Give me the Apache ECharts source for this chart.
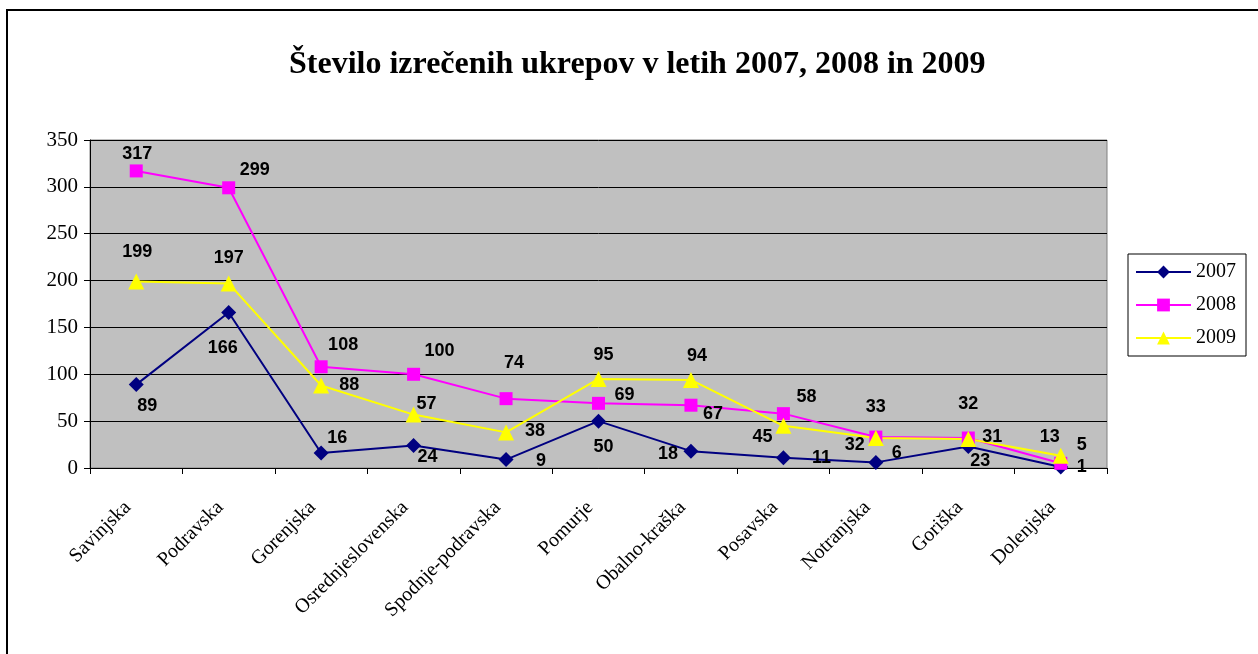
<!DOCTYPE html>
<html>
<head>
<meta charset="utf-8">
<title>Število izrečenih ukrepov</title>
<script src="https://cdn.jsdelivr.net/npm/echarts/dist/echarts.min.js"></script>
<style>
html, body {margin:0; padding:0; background:#fff;}
#chart {width:1258px; height:654px;}
</style>
</head>
<body>
<div id="chart"></div>
<script>
var regije = ['Savinjska', 'Podravska', 'Gorenjska', 'Osrednjeslovenska', 'Spodnje-podravska',
    'Pomurje', 'Obalno-kraška', 'Posavska', 'Notranjska', 'Goriška', 'Dolenjska'];
var leto2007 = [89, 166, 16, 24, 9, 50, 18, 11, 6, 23, 1];
var leto2008 = [317, 299, 108, 100, 74, 69, 67, 58, 33, 32, 5];
var leto2009 = [199, 197, 88, 57, 38, 95, 94, 45, 32, 31, 13];
var yTicks = [0, 50, 100, 150, 200, 250, 300, 350];

// premiki oznak (kot v excelu, ročno razporejene)
var off2007 = [[11,21],[-6,36],[16,-15],[14,12],[35,1],[5,26],[-23,3],[38,0],[21,-9],[12,15],[21,0]];
var off2008 = [[1,-17],[26,-18],[22,-22],[26,-23],[8,-36],[26,-8],[22,9],[23,-17],[0,-30],[0,-34],[21,-18]];
var off2009 = [[1,-29],[0,-25],[28,-1],[13,-11],[29,-1],[5,-24],[6,-24],[-21,11],[-21,7],[24,-2],[-11,-19]];

function points(values, offsets){
    var out = [];
    for (var i = 0; i < values.length; i++) {
        out.push({value: values[i], label: {offset: offsets[i]}});
    }
    return out;
}

function makeSeries(name, values, offsets, color, symbol, size){
    return {
        name: name,
        type: 'line',
        data: points(values, offsets),
        symbol: symbol,
        symbolSize: size,
        color: color,
        lineStyle: {color: color, width: 2},
        itemStyle: {color: color},
        label: {
            show: true,
            position: 'inside',
            align: 'center',
            verticalAlign: 'middle',
            color: '#000',
            fontFamily: 'Liberation Sans',
            fontWeight: 'bold',
            fontSize: 18
        },
        emphasis: {disabled: true},
        animation: false
    };
}

var chart = echarts.init(document.getElementById('chart'), null, {renderer: 'canvas'});
chart.setOption({
    backgroundColor: '#fff',
    title: {
        text: 'Število izrečenih ukrepov v letih 2007, 2008 in 2009',
        left: 284,
        top: 44,
        textStyle: {fontFamily: 'Liberation Serif', fontWeight: 'bold', fontSize: 32, color: '#000'}
    },
    graphic: [{
        type: 'rect',
        shape: {x: 7, y: 10, width: 1300, height: 700},
        style: {fill: 'none', stroke: '#000', lineWidth: 2},
        silent: true
    }],
    legend: {
        orient: 'vertical',
        left: 1128,
        top: 254,
        padding: [8, 10, 8, 7],
        borderColor: '#000',
        borderWidth: 1,
        itemWidth: 55,
        itemHeight: 16,
        itemGap: 13,
        data: ['2007', '2008', '2009'],
        textStyle: {fontFamily: 'Liberation Serif', fontSize: 20, color: '#000'}
    },
    grid: {
        left: 90, right: 151, top: 140, bottom: 186,
        show: true, backgroundColor: '#C0C0C0', borderColor: '#808080', borderWidth: 1
    },
    xAxis: {
        type: 'category',
        data: regije,
        boundaryGap: true,
        axisLine: {lineStyle: {color: '#000', width: 1}},
        axisTick: {show: true, length: 6, lineStyle: {color: '#000'}},
        axisLabel: {
            rotate: 45, margin: 28, interval: 0, padding: [0, 12, 0, 0],
            fontFamily: 'Liberation Serif', fontSize: 20, color: '#000'
        }
    },
    yAxis: {
        type: 'value',
        min: yTicks[0],
        max: yTicks[yTicks.length - 1],
        interval: yTicks[1] - yTicks[0],
        axisLine: {show: true, lineStyle: {color: '#000', width: 1}},
        axisTick: {show: true, length: 6, lineStyle: {color: '#000'}},
        splitLine: {show: true, lineStyle: {color: '#000', width: 1}},
        axisLabel: {margin: 12, fontFamily: 'Liberation Serif', fontSize: 21, color: '#000'}
    },
    series: [
        makeSeries('2007', leto2007, off2007, '#000080', 'diamond', 15),
        makeSeries('2008', leto2008, off2008, '#FF00FF', 'rect', 13),
        makeSeries('2009', leto2009, off2009, '#FFFF00', 'triangle', 16)
    ]
});
</script>
</body>
</html>
